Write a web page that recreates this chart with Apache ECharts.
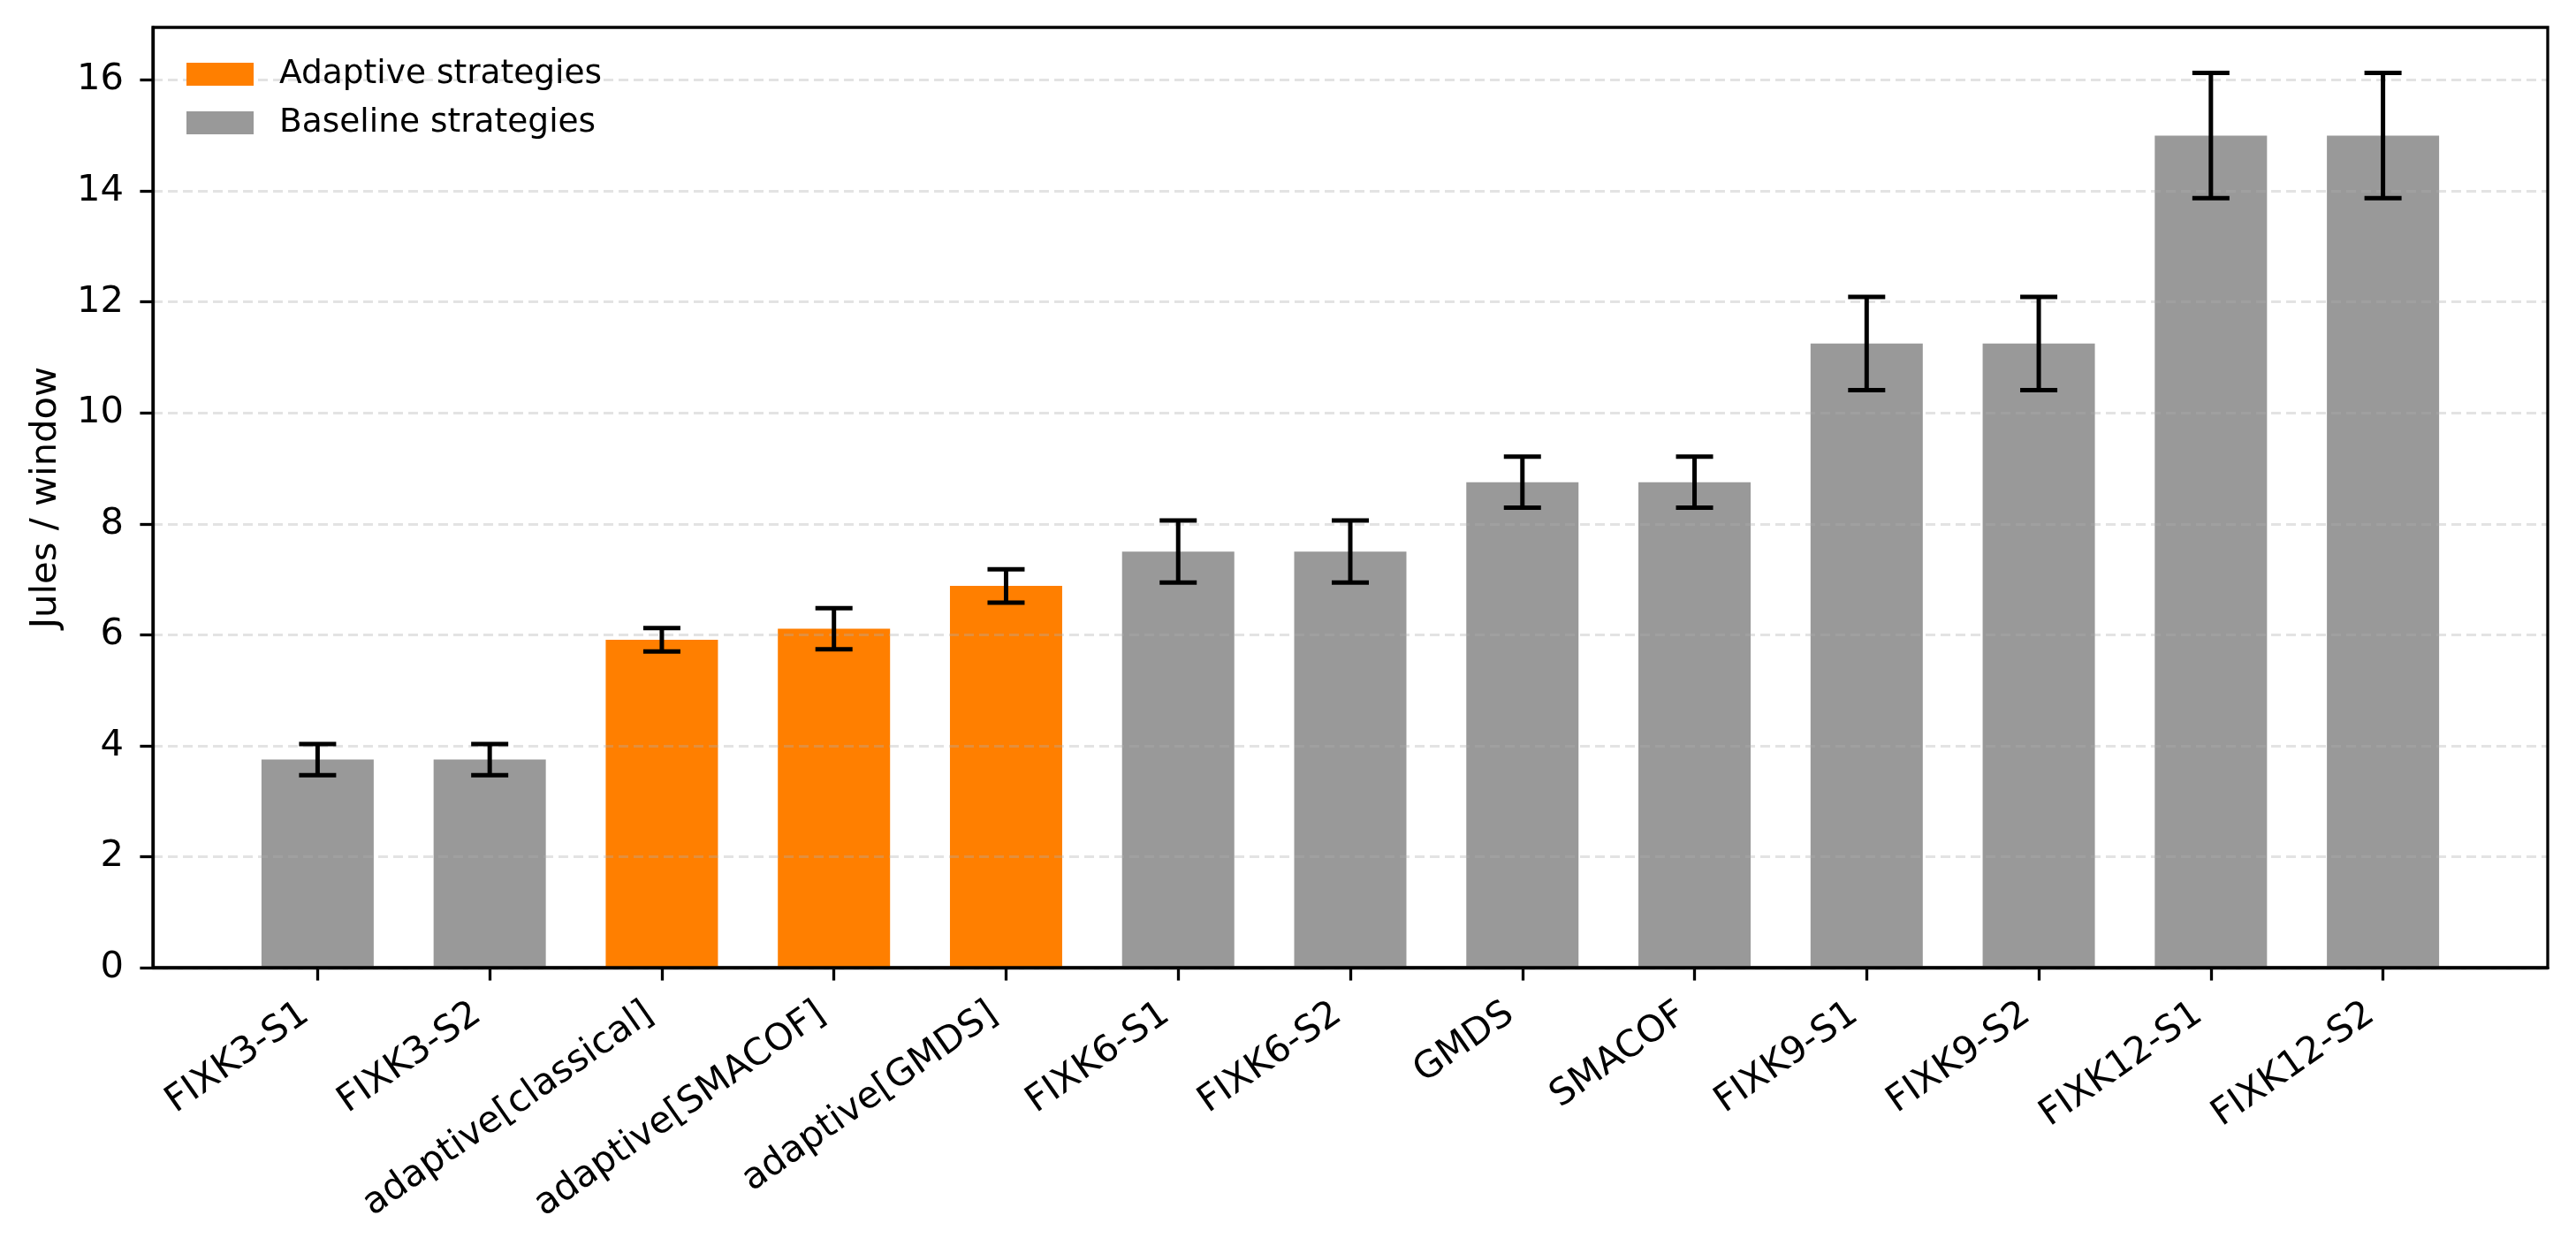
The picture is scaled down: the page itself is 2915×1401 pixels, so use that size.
<!DOCTYPE html>
<html>
<head>
<meta charset="utf-8">
<script src="https://cdn.jsdelivr.net/npm/echarts@6/dist/echarts.min.js"></script>
<style>
html,body{margin:0;padding:0;background:#fff;}
#chart{width:2915px;height:1401px;}
</style>
</head>
<body>
<div id="chart"></div>
<script>
const categories = ["FIXK3-S1","FIXK3-S2","adaptive[classical]","adaptive[SMACOF]","adaptive[GMDS]","FIXK6-S1","FIXK6-S2","GMDS","SMACOF","FIXK9-S1","FIXK9-S2","FIXK12-S1","FIXK12-S2"];
const values = [3.75, 3.75, 5.91, 6.11, 6.88, 7.5, 7.5, 8.75, 8.75, 11.25, 11.25, 15.0, 15.0];
const errors = [0.28, 0.28, 0.21, 0.37, 0.30, 0.56, 0.56, 0.46, 0.46, 0.84, 0.84, 1.13, 1.13];
const isAdaptive = [false, false, true, true, true, false, false, false, false, false, false, false, false];
const seriesNames = ["Adaptive strategies", "Baseline strategies"];
const yTicks = [0, 2, 4, 6, 8, 10, 12, 14, 16];

const FONT = "DejaVu Sans";
const chart = echarts.init(document.getElementById('chart'), null, {renderer: 'canvas', devicePixelRatio: 1});
const idx = categories.map((c, i) => i);
const adaptiveData = idx.map(i => isAdaptive[i] ? [i, values[i]] : [i, '-']);
const baselineData = idx.map(i => !isAdaptive[i] ? [i, values[i]] : [i, '-']);
const errData = idx.map(i => [i, values[i] - errors[i], values[i] + errors[i]]);

const option = {
  animation: false,
  backgroundColor: '#fff',
  grid: {left: 173, right: 32, top: 31, bottom: 306, show: true, borderColor: '#000', borderWidth: 3.3, backgroundColor: 'transparent', z: 10},
  legend: {
    left: 206, top: 60, orient: 'vertical', itemWidth: 76, itemHeight: 26, itemGap: 17,
    icon: 'rect',
    textStyle: {fontFamily: FONT, fontSize: 37.5, color: '#000', padding: [0, 0, 0, 24]},
    data: seriesNames
  },
  xAxis: {
    type: 'value', min: -0.957, max: 12.957,
    axisLine: {show: true, onZero: false, lineStyle: {color: '#000', width: 3.3}},
    axisTick: {show: true, length: 14.6, lineStyle: {color: '#000', width: 3.3}, customValues: idx},
    axisLabel: {
      customValues: idx, rotate: 35, margin: 39, padding: [0, 17, 0, 0],
      fontFamily: FONT, fontSize: 41.7, color: '#000',
      formatter: v => categories[Math.round(v)]
    },
    splitLine: {show: false}
  },
  yAxis: {
    type: 'value', min: 0, max: 16.95, z: 3,
    name: 'Jules / window', nameLocation: 'middle', nameGap: 100,
    nameTextStyle: {fontFamily: FONT, fontSize: 41.7, color: '#000'},
    axisLine: {show: true, onZero: false, lineStyle: {color: '#000', width: 3.3}},
    axisTick: {show: true, length: 14.6, lineStyle: {color: '#000', width: 3.3}, customValues: yTicks},
    axisLabel: {customValues: yTicks, margin: 33, fontFamily: FONT, fontSize: 41.7, color: '#000'},
    splitLine: {show: true, lineStyle: {color: 'rgba(176,176,176,0.35)', width: 3, type: [11, 6]}}
  },
  series: [
    {name: seriesNames[0], type: 'bar', data: adaptiveData, barWidth: 127, barGap: '-100%', itemStyle: {color: '#ff7f00'}, z: 2},
    {name: seriesNames[1], type: 'bar', data: baselineData, barWidth: 127, barGap: '-100%', itemStyle: {color: '#999999'}, z: 2},
    {
      type: 'custom', data: errData, z: 5, silent: true,
      renderItem: (params, api) => {
        const x = api.value(0);
        const lo = api.coord([x, api.value(1)]);
        const hi = api.coord([x, api.value(2)]);
        const cap = 21;
        const st = {stroke: '#000', lineWidth: 5};
        return {type: 'group', children: [
          {type: 'line', shape: {x1: lo[0], y1: lo[1], x2: hi[0], y2: hi[1]}, style: st},
          {type: 'line', shape: {x1: lo[0] - cap, y1: lo[1], x2: lo[0] + cap, y2: lo[1]}, style: st},
          {type: 'line', shape: {x1: hi[0] - cap, y1: hi[1], x2: hi[0] + cap, y2: hi[1]}, style: st}
        ]};
      }
    }
  ]
};
chart.setOption(option);
</script>
</body>
</html>
